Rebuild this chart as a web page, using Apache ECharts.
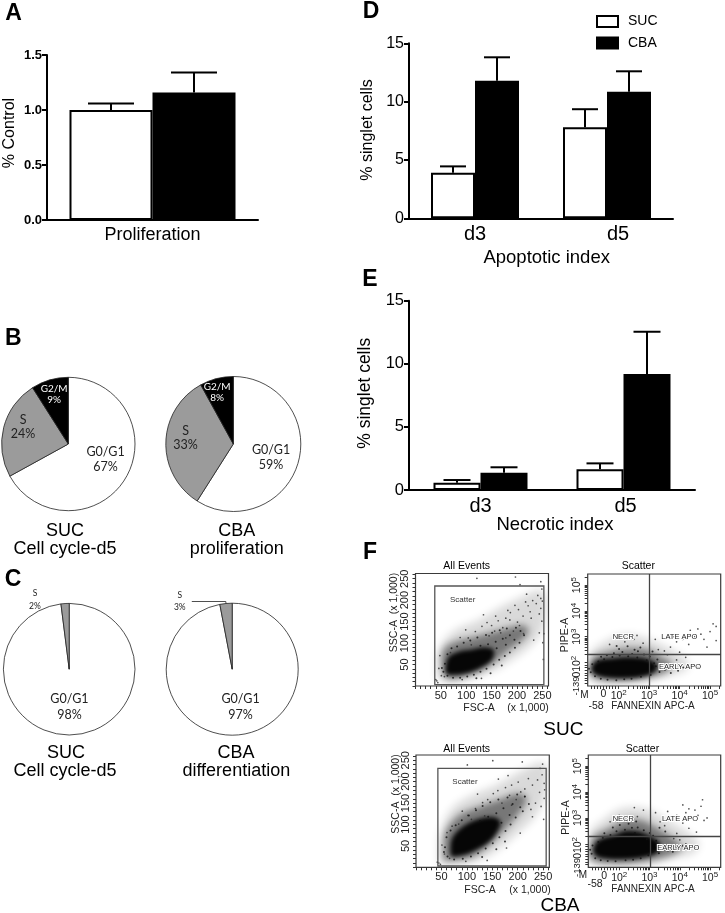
<!DOCTYPE html>
<html><head><meta charset="utf-8">
<script src="https://cdn.jsdelivr.net/npm/echarts@6/dist/echarts.min.js"></script>
<style>html,body{margin:0;padding:0;background:#fff}#c{width:725px;height:913px}</style>
</head><body><div id="c"></div>
<script>
// ================= DATA =================
// Panel A
const profCategories = ['Proliferation'];
const profSUC = [1.00];
const profSUCerr = [0.06];
const profCBA = [1.16];
const profCBAerr = [0.18];
// Panel D (apoptotic)
const dayCategories = ['d3', 'd5'];
const apoSUC = [3.9, 7.8];
const apoSUCerr = [0.55, 1.55];
const apoCBA = [11.8, 10.85];
const apoCBAerr = [2.0, 1.75];
// Panel E (necrotic)
const necSUC = [0.58, 1.64];
const necSUCerr = [0.21, 0.47];
const necCBA = [1.37, 9.19];
const necCBAerr = [0.43, 3.35];
// Panel B / C pies
const phasesB = ['G0/G1', 'S', 'G2/M'];
const pieB_SUC = [67, 24, 9];
const pieB_CBA = [59, 33, 8];
const phasesC = ['G0/G1', 'S'];
const pieC_SUC = [98, 2];
const pieC_CBA = [97, 3];
// Panel F tick labels
const fscTickLabels = [50, 100, 150, 200, 250];
const quadXTickPos = [1.5, 2, 3, 4, 5];
const quadXTickText = ['0', '10|2', '10|3', '10|4', '10|5'];
const quadYTickPos = [1.53, 1.95, 3, 4, 5];
const quadYTickText = ['0', '10|2', '10|3', '10|4', '10|5'];
// gates [x0, y0, x1, y1] (FSC/SSC x1000) and quadrant lines [x, y] (display decades)
const gateSUC = [38, 3, 253, 233];
const gateCBA = [43, 3, 256, 231];
const quadSUC = [3.0, 2.32];
const quadCBA = [3.02, 2.30];
// flow clouds: density contours (outer / mid / core) and dots
const sucFscOuter = [[42,37],[49,92],[78,130],[125,154],[170,185],[210,208],[243,224],[256,216],[256,162],[243,115],[217,84],[190,61],[157,37],[111,18],[72,10],[46,14]];
const sucFscMid = [[52,45],[55,84],[78,103],[118,115],[157,127],[190,138],[210,142],[223,130],[210,107],[184,84],[157,57],[125,33],[92,20],[62,18]];
const sucFscCore = [[59,37],[65,67],[85,80],[111,85],[138,90],[154,84],[151,62],[131,44],[105,31],[78,26],[62,28]];
const sucFscDots = [[58,52],[63,74],[71,88],[82,92],[95,101],[108,106],[122,113],[139,119],[151,124],[166,130],[180,134],[198,136],[207,128],[214,118],[205,101],[196,89],[186,78],[176,70],[165,61],[154,50],[140,40],[128,33],[115,26],[102,22],[88,19],[74,19],[63,24],[55,33],[52,42],[186,118],[172,110],[158,103],[143,97],[128,94],[195,108],[160,88],[178,96],[120,18],[148,30],[170,48]];
const sucFscSparse = [[150,141],[163,152],[178,158],[187,171],[203,178],[212,163],[226,173],[238,192],[247,204],[231,199],[217,196],[196,188],[182,176],[158,163],[141,148],[131,139],[118,127],[104,112],[244,168],[249,151],[253,122],[247,181],[241,211],[219,214],[201,149],[186,154],[134,166],[99,131],[88,113],[51,24],[46,41],[48,71],[42,12],[44,8],[40,15],[206,236],[247,243],[197,254],[121,251],[249,226],[251,101],[252,62],[250,198],[228,158],[172,136],[193,128],[156,128],[110,96],[69,78],[57,22],[233,107],[244,124],[213,122],[168,124],[145,117],[222,187],[205,141],[178,112],[92,15],[130,18]];
const sucQuadOuter = [[0.99,1.71],[1.06,2.36],[1.55,2.81],[2.10,3.07],[2.75,3.00],[3.19,2.81],[3.74,2.49],[4.18,2.16],[4.29,1.84],[3.96,1.58],[3.08,1.32],[2.00,1.19],[1.11,1.26]];
const sucQuadMid = [[1.00,1.78],[1.16,2.20],[1.66,2.42],[2.31,2.55],[2.97,2.49],[3.41,2.20],[3.74,1.97],[3.63,1.71],[3.30,1.52],[2.53,1.32],[1.66,1.30],[1.09,1.48]];
const sucQuadCore = [[1.11,1.78],[1.28,2.07],[1.77,2.16],[2.43,2.20],[2.97,2.12],[3.25,1.90],[3.19,1.65],[2.86,1.48],[2.21,1.39],[1.55,1.43],[1.20,1.56]];
const sucQuadDots = [[1.08,1.62],[1.13,1.93],[1.22,1.47],[1.33,2.04],[1.41,1.37],[1.52,2.13],[1.63,1.33],[1.79,2.21],[1.92,1.31],[2.03,2.27],[2.18,1.35],[2.31,2.24],[2.42,1.37],[2.61,2.19],[2.73,1.45],[2.92,2.09],[3.05,1.52],[3.22,1.86],[3.34,1.63],[3.43,1.94],[3.52,1.72],[3.63,1.83],[3.81,1.77],[1.84,2.36],[2.12,2.41],[2.44,2.33],[2.63,2.44],[2.83,2.31],[3.02,2.23],[1.61,2.28],[2.01,2.52],[2.29,2.63],[2.52,2.49],[1.93,2.64],[2.71,2.58],[3.11,2.43],[1.42,2.22],[3.16,1.97],[3.27,2.12],[1.02,1.76],[3.95,1.68],[4.12,1.81],[3.71,1.59]];
const sucQuadSparse = [[2.2,2.8],[2.5,2.9],[2.0,2.95],[1.7,2.7],[2.8,2.75],[3.3,2.5],[3.5,2.45],[3.7,2.6],[3.9,2.8],[4.1,2.9],[4.3,2.7],[4.5,3.0],[4.7,3.1],[4.8,2.9],[5.0,3.2],[5.1,3.5],[5.2,3.4],[4.6,3.3],[4.0,2.4],[4.2,2.2],[4.4,1.9],[4.6,1.8],[3.9,2.1],[3.6,2.3],[4.9,2.6],[5.2,2.85],[3.2,2.9],[2.6,3.05],[4.35,3.25],[3.8,3.0]];
const cbaFscOuter = [[45,20],[48,82],[71,137],[110,168],[156,191],[202,222],[248,246],[258,230],[254,168],[235,121],[202,82],[163,43],[123,16],[71,5],[45,6]];
const cbaFscMid = [[54,36],[58,82],[84,121],[123,141],[169,160],[202,172],[218,160],[202,125],[176,90],[143,51],[110,24],[71,16],[54,20]];
const cbaFscCore = [[68,36],[71,67],[91,94],[123,113],[153,117],[166,106],[159,82],[143,59],[117,40],[91,28],[71,26]];
const cbaFscDots = [[57,47],[60,70],[68,86],[78,98],[90,110],[104,121],[118,133],[131,143],[146,152],[162,158],[180,163],[199,170],[214,165],[222,148],[210,131],[196,116],[186,100],[176,85],[164,70],[151,56],[137,44],[122,33],[108,25],[92,20],[75,18],[62,25],[55,36],[190,148],[172,138],[158,126],[142,118],[126,108],[205,140],[168,104],[184,122],[130,24],[158,42],[175,60]];
const cbaFscSparse = [[141,158],[152,172],[161,179],[176,186],[188,192],[201,199],[214,183],[229,192],[239,204],[248,216],[252,196],[221,207],[184,168],[131,151],[117,137],[102,121],[91,131],[121,171],[206,176],[244,231],[249,241],[181,214],[162,206],[71,96],[61,81],[56,31],[51,52],[45,10],[48,7],[42,12],[252,161],[251,112],[253,181],[209,246],[151,249],[101,239],[235,150],[226,135],[243,175],[197,158],[169,150],[135,120],[109,112],[84,101],[229,118],[246,142],[214,165],[188,145],[66,21],[98,14],[140,16],[178,45],[205,80]];
const cbaQuadOuter = [[0.99,1.68],[1.04,2.47],[1.53,2.97],[2.08,3.36],[2.85,3.36],[3.51,2.97],[4.17,2.52],[4.61,2.07],[4.50,1.68],[3.73,1.42],[2.85,1.19],[1.53,1.14],[0.99,1.30]];
const cbaQuadMid = [[1.00,1.75],[1.15,2.26],[1.64,2.58],[2.19,2.91],[2.74,2.91],[3.29,2.58],[3.79,2.20],[4.06,1.87],[3.84,1.62],[3.07,1.36],[1.97,1.23],[1.09,1.36]];
const cbaQuadCore = [[1.15,1.81],[1.31,2.13],[1.86,2.34],[2.19,2.49],[2.63,2.47],[3.07,2.26],[3.35,2.00],[3.29,1.68],[2.85,1.49],[2.08,1.40],[1.42,1.45],[1.20,1.58]];
const cbaQuadDots = [[1.09,1.61],[1.12,1.93],[1.21,1.44],[1.31,2.07],[1.39,1.36],[1.46,2.23],[1.62,1.33],[1.71,2.34],[1.88,1.32],[1.91,2.48],[2.21,1.36],[2.19,2.54],[2.46,1.38],[2.52,2.42],[2.71,1.44],[2.69,2.33],[2.96,1.56],[2.91,2.17],[3.12,1.71],[3.21,1.92],[3.31,1.63],[3.46,1.82],[3.61,1.74],[3.77,1.69],[2.02,2.72],[2.31,2.77],[2.42,2.62],[1.79,2.63],[2.61,2.63],[2.81,2.52],[3.01,2.42],[3.12,2.31],[1.51,2.41],[2.16,2.93],[1.94,2.87],[2.56,2.86],[3.22,2.12],[1.04,1.77],[3.33,2.62],[3.52,2.47],[3.92,1.78],[4.08,1.92]];
const cbaQuadSparse = [[2.3,3.0],[2.0,3.1],[2.6,3.05],[1.7,2.85],[3.35,2.85],[3.5,2.7],[3.7,2.9],[3.9,3.1],[4.1,2.8],[4.2,3.2],[4.3,3.35],[4.4,3.0],[4.5,3.3],[4.6,3.1],[4.7,3.45],[4.8,2.9],[4.75,3.7],[4.3,2.6],[3.9,2.4],[4.0,2.15],[4.2,2.0],[4.5,1.85],[3.8,2.2],[3.2,3.2],[2.8,3.3],[4.55,2.45],[4.9,3.0],[3.6,3.25],[4.1,3.5],[2.5,3.4]];

// ================= RENDER =================
const FONT = '"Liberation Sans", Arial, sans-serif';
const PFONT = 'Lato, "Liberation Sans", sans-serif';
const chart = echarts.init(document.getElementById('c'), null, {renderer: 'canvas', width: 725, height: 913});

const grids = [
  {left: 47, top: 55, width: 211, height: 165},          // A
  {left: 409, top: 43.3, width: 264, height: 175},       // D
  {left: 409, top: 300.7, width: 286, height: 189.3},    // E
  {left: 415.5, top: 573.5, width: 133, height: 112.5},  // F SUC all
  {left: 587.7, top: 574, width: 133, height: 112},      // F SUC quad
  {left: 416, top: 755, width: 133.3, height: 112.3},    // F CBA all
  {left: 588.3, top: 755, width: 132.4, height: 112.3}   // F CBA quad
].map((g, i) => Object.assign({outerBoundsMode: 'none', containLabel: false}, g,
  i >= 3 ? {show: true, borderColor: '#3a3a3a', borderWidth: 1.2, backgroundColor: 'transparent', z: 10} : {}));

const blackLine = {lineStyle: {color: '#000', width: 2}};

function catX(gi, cats, fs, shiftLast) {
  const lab = {color: '#000', fontSize: fs, fontFamily: FONT, margin: 6};
  if (shiftLast) {
    lab.formatter = (v, i) => i === cats.length - 1 ? '{a|' + v + '}' : v;
    lab.rich = {a: {fontSize: fs, fontFamily: FONT, color: '#000', padding: [0, 0, 0, shiftLast]}};
  }
  return {type: 'category', gridIndex: gi, data: cats, axisLine: Object.assign({show: true}, blackLine),
    axisTick: {show: false}, axisLabel: lab, splitLine: {show: false}};
}
function valY(gi, max, interval, labelOpt) {
  return {type: 'value', gridIndex: gi, min: 0, max: max, interval: interval,
    axisLine: Object.assign({show: true}, blackLine),
    axisTick: {show: true, inside: false, length: 5, lineStyle: {color: '#000', width: 2}},
    axisLabel: Object.assign({color: '#000', fontFamily: FONT, margin: 5}, labelOpt),
    splitLine: {show: false}};
}

const fscTickVals = [];
for (let v = 0; v <= 260; v += 10) fscTickVals.push(v);
const quadXTicks = [1.1, 1.2, 1.3, 1.4, 1.5, 1.6, 1.7, 1.8, 1.9];
const quadYTicks = [1.2, 1.3, 1.4, 1.5, 1.6, 1.7, 1.8, 1.9];
[2, 3, 4].forEach(n => { for (let k = 1; k <= 9; k++) { quadXTicks.push(n + Math.log10(k)); quadYTicks.push(n + Math.log10(k)); } });
quadXTicks.push(5, 5 + Math.log10(2)); quadYTicks.push(5, 5 + Math.log10(2));

const supRich = {b: {fontSize: 10.5, fontFamily: FONT, color: '#222', verticalAlign: 'bottom'},
                 s: {fontSize: 8, fontFamily: FONT, color: '#222', verticalAlign: 'bottom', padding: [0, 0, 5, 0]}};
function supFmt(pos, txt) {
  return function (v) {
    const i = pos.findIndex(p => Math.abs(p - v) < 1e-6);
    if (i < 0) return '';
    const t = txt[i].split('|');
    return t.length > 1 ? '{b|' + t[0] + '}{s|' + t[1] + '}' : '{b|' + t[0] + '}';
  };
}
function fscAxis(gi, isY) {
  return {type: 'value', gridIndex: gi, min: 0, max: 262.144,
    axisLine: {show: false},
    axisTick: {show: true, inside: false, length: 3, customValues: fscTickVals, lineStyle: {color: '#333', width: 1}},
    axisLabel: {customValues: fscTickLabels, color: '#222', fontSize: 11, fontFamily: FONT, margin: isY ? 5 : 4,
      rotate: isY ? 90 : 0, hideOverlap: false},
    splitLine: {show: false}};
}
function quadAxis(gi, isY) {
  const pos = isY ? quadYTickPos : quadXTickPos;
  const txt = isY ? quadYTickText : quadXTickText;
  return {type: 'value', gridIndex: gi, min: isY ? 1.09 : 0.98, max: isY ? 5.43 : 5.35,
    axisLine: {show: false},
    axisTick: {show: true, inside: false, length: 3, customValues: isY ? quadYTicks : quadXTicks, lineStyle: {color: '#333', width: 1}},
    axisLabel: {customValues: pos, formatter: supFmt(pos, txt), rich: supRich, margin: isY ? 5 : 3,
      rotate: isY ? 90 : 0, hideOverlap: false, showMinLabel: true, showMaxLabel: true},
    splitLine: {show: false}};
}

const xAxes = [
  catX(0, profCategories, 18),
  catX(1, dayCategories, 20, 22),
  catX(2, dayCategories, 20, 4),
  fscAxis(3, false), quadAxis(4, false), fscAxis(5, false), quadAxis(6, false)
];
const yAxes = [
  valY(0, 1.5, 0.5, {fontSize: 13, fontWeight: 'bold', formatter: v => v.toFixed(1)}),
  valY(1, 15, 5, {fontSize: 16}),
  valY(2, 15, 5, {fontSize: 16.5}),
  fscAxis(3, true), quadAxis(4, true), fscAxis(5, true), quadAxis(6, true)
];

function barPair(ai, suc, cba, bw) {
  return [
    {type: 'bar', name: 'SUC', xAxisIndex: ai, yAxisIndex: ai, data: suc, barWidth: bw, barGap: '0%',
      itemStyle: {color: '#fff', borderColor: '#000', borderWidth: 2}, z: 2},
    {type: 'bar', name: 'CBA', xAxisIndex: ai, yAxisIndex: ai, data: cba, barWidth: bw, barGap: '0%',
      itemStyle: {color: '#000', borderColor: '#000', borderWidth: 2}, z: 2}
  ];
}
function errBars(ai, vals, errs, side, bw, capW) {
  return {type: 'custom', xAxisIndex: ai, yAxisIndex: ai, z: 3, silent: true,
    data: vals.map((v, i) => [i, v, errs[i]]),
    renderItem: function (params, api) {
      const i = api.value(0), v = api.value(1), e = api.value(2);
      const p0 = api.coord([i, v]), p1 = api.coord([i, v + e]);
      const x = p0[0] + side * bw / 2;
      return {type: 'group', children: [
        {type: 'line', shape: {x1: x, y1: p0[1], x2: x, y2: p1[1]}, style: {stroke: '#000', lineWidth: 2}},
        {type: 'line', shape: {x1: x - capW / 2, y1: p1[1], x2: x + capW / 2, y2: p1[1]}, style: {stroke: '#000', lineWidth: 2}}
      ]};
    }};
}
function gateSeries(ai, gate) {
  return {type: 'custom', xAxisIndex: ai, yAxisIndex: ai, z: 6, silent: true, data: [gate],
    renderItem: function (params, api) {
      const a = api.coord([api.value(0), api.value(3)]), b = api.coord([api.value(2), api.value(1)]);
      return {type: 'rect', shape: {x: a[0], y: a[1], width: b[0] - a[0], height: b[1] - a[1]},
        style: {fill: 'none', stroke: '#555', lineWidth: 1.3}};
    }};
}
// density contour drawn as a blurred shadow of an off-screen copy (soft edge)
const OFF = 3000;
function contourSeries(ai, pts, alpha, blur) {
  return {type: 'custom', xAxisIndex: ai, yAxisIndex: ai, z: 1, silent: true, data: pts,
    clip: true,
    renderItem: function (params, api) {
      if (params.dataIndex !== 0) return null;
      const poly = pts.map(p => { const c = api.coord(p); return [c[0] - OFF, c[1]]; });
      return {type: 'polygon', shape: {points: poly, smooth: 0.35},
        style: {fill: '#000', shadowBlur: blur, shadowOffsetX: OFF, shadowOffsetY: 0,
          shadowColor: 'rgba(0,0,0,' + alpha + ')'}};
    }};
}
function cloud(ai, outer, mid, core, dots, sparse, quad) {
  const s = [
    contourSeries(ai, outer, 0.15, 9),
    contourSeries(ai, mid, 0.45, 7),
    contourSeries(ai, core, 0.95, 4),
    {type: 'scatter', xAxisIndex: ai, yAxisIndex: ai, data: sparse, symbolSize: 1.7, silent: true,
      itemStyle: {color: '#333', opacity: 0.85}, z: 3},
    {type: 'scatter', xAxisIndex: ai, yAxisIndex: ai, data: dots, symbolSize: 2, silent: true,
      itemStyle: {color: '#111', opacity: 0.8}, z: 3}
  ];
  if (quad) {
    s[3].markLine = {silent: true, symbol: 'none', animation: false, label: {show: false},
      lineStyle: {color: '#444', width: 1.3, type: 'solid'},
      data: [{xAxis: quad[0]}, {yAxis: quad[1]}]};
  }
  return s;
}

const sliceColor = {'G0/G1': '#ffffff', 'S': '#9b9b9b', 'G2/M': '#000000'};
function pieSeries(center, r, names, vals, labelStyles, shifts) {
  return {type: 'pie', center: center, radius: r, startAngle: 90, clockwise: true,
    avoidLabelOverlap: false, silent: true, animation: false,
    itemStyle: {borderColor: '#222', borderWidth: 0.8},
    emphasis: {disabled: true},
    label: {show: true, position: 'inside', formatter: '{b}\n{c}%', fontFamily: PFONT, color: '#222'},
    labelLine: {show: false},
    data: names.map((n, i) => Object.assign({name: n, value: vals[i], itemStyle: {color: sliceColor[n]}}, labelStyles[i])),
    labelLayout: function (p) { const s = shifts[p.dataIndex] || [0, 0]; return {dx: s[0], dy: s[1]}; }
  };
}
const bLabel = [
  {label: {fontSize: 12.5, lineHeight: 15, color: '#222'}},
  {label: {fontSize: 12.5, lineHeight: 13.5, color: '#222'}},
  {label: {fontSize: 10, lineHeight: 10.5, color: '#fff'}}
];
function cLabel(showLine, len2) {
  return [
    {label: {fontSize: 12.5, lineHeight: 15.5, color: '#222'}},
    {label: {position: 'outside', formatter: '{t|{b}}\n{t|{c}%}', color: '#222',
      rich: {t: {fontSize: 8.5, lineHeight: 12.5, width: 14, align: 'center', fontFamily: PFONT, color: '#222'}}},
     labelLine: {show: showLine, length: 2, length2: len2, smooth: false, lineStyle: {color: '#222', width: 0.8}}}
  ];
}

const series = [].concat(
  barPair(0, profSUC, profCBA, 83),
  [errBars(0, profSUC, profSUCerr, -1, 83, 46), errBars(0, profCBA, profCBAerr, 1, 83, 46)],
  barPair(1, apoSUC, apoCBA, 44),
  [errBars(1, apoSUC, apoSUCerr, -1, 44, 26), errBars(1, apoCBA, apoCBAerr, 1, 44, 26)],
  barPair(2, necSUC, necCBA, 47),
  [errBars(2, necSUC, necSUCerr, -1, 47, 27), errBars(2, necCBA, necCBAerr, 1, 47, 27)],
  cloud(3, sucFscOuter, sucFscMid, sucFscCore, sucFscDots, sucFscSparse, null), [gateSeries(3, gateSUC)],
  cloud(4, sucQuadOuter, sucQuadMid, sucQuadCore, sucQuadDots, sucQuadSparse, quadSUC),
  cloud(5, cbaFscOuter, cbaFscMid, cbaFscCore, cbaFscDots, cbaFscSparse, null), [gateSeries(5, gateCBA)],
  cloud(6, cbaQuadOuter, cbaQuadMid, cbaQuadCore, cbaQuadDots, cbaQuadSparse, quadCBA),
  [
    pieSeries([68.3, 444], 66.7, phasesB, pieB_SUC, bLabel, [[6, -3], [-10, -8], [-4, -15]]),
    pieSeries([233.3, 444], 67.5, phasesB, pieB_CBA, bLabel, [[2.5, 3], [-11, -5], [-7, -16]]),
    pieSeries([69.2, 669.2], 65.8, phasesC, pieC_SUC, cLabel(false, 18), [[-2, 2], [0, -2]]),
    pieSeries([232.2, 669.2], 66, phasesC, pieC_CBA, cLabel(true, 34), [[5, 2], [0, 0]])
  ]
);

function T(x, y, text, size, o) {
  o = o || {};
  return {type: 'text', x: x, y: y, rotation: o.rot ? Math.PI / 2 : 0, silent: true, z: 50,
    style: {text: text, fontSize: size, fontFamily: o.font || FONT, fontWeight: o.bold ? 'bold' : 'normal',
      fill: o.color || '#000', align: 'center', verticalAlign: 'middle', textAlign: 'center', textVerticalAlign: 'middle',
      stroke: o.halo ? '#fff' : null, lineWidth: o.halo ? 2 : 0}};
}
const graphics = [
  T(13.5, 13.5, 'A', 23, {bold: true}), T(371, 11.7, 'D', 23, {bold: true}),
  T(13.3, 339, 'B', 23, {bold: true}), T(13, 580, 'C', 23, {bold: true}),
  T(370, 279.5, 'E', 23, {bold: true}), T(370, 553, 'F', 23, {bold: true}),
  T(9.2, 133, '% Control', 16, {rot: true}),
  T(368, 130, '% singlet cells', 16, {rot: true}), T(546.7, 258, 'Apoptotic index', 18.5),
  T(365, 393.3, '% singlet cells', 17.5, {rot: true}), T(555, 525, 'Necrotic index', 18.5),
  T(65, 530.8, 'SUC', 18), T(65, 549, 'Cell cycle-d5', 18),
  T(236.7, 530.8, 'CBA', 18), T(236.7, 549, 'proliferation', 18),
  T(66, 753, 'SUC', 18), T(65, 771, 'Cell cycle-d5', 18),
  T(236, 753, 'CBA', 18), T(236.3, 771, 'differentiation', 18),
  // F top row
  T(466.7, 565.7, 'All Events', 10.5), T(638.3, 565.7, 'Scatter', 10.5),
  T(479, 708.3, 'FSC-A', 10.5, {color: '#222'}), T(528, 708.3, '(x 1,000)', 10.5, {color: '#222'}),
  T(394, 612.5, 'SSC-A  (x 1,000)', 10.5, {rot: true, color: '#222'}), T(565, 635, 'PIPE-A', 10.5, {rot: true, color: '#222'}),
  T(653, 706.7, 'FANNEXIN APC-A', 10, {color: '#222'}), T(596, 706, '-58', 10.5, {color: '#222'}), T(584.5, 695, 'M', 10, {color: '#222'}),
  T(576.5, 686, '-139', 9.5, {rot: true, color: '#222'}),
  T(462.7, 599.3, 'Scatter', 8, {color: '#333', halo: true}),
  T(623.3, 637.3, 'NECR', 7.5, {color: '#222', halo: true}), T(679.3, 637.3, 'LATE APO', 7.5, {color: '#222', halo: true}),
  T(680, 667.3, 'EARLY APO', 7.5, {color: '#222', halo: true}),
  T(563.3, 730, 'SUC', 19),
  // F bottom row
  T(466.7, 749, 'All Events', 10.5), T(642.5, 749, 'Scatter', 10.5),
  T(480, 890, 'FSC-A', 10.5, {color: '#222'}), T(530, 890, '(x 1,000)', 10.5, {color: '#222'}),
  T(396, 794, 'SSC-A  (x 1,000)', 10.5, {rot: true, color: '#222'}), T(566, 817.5, 'PIPE-A', 10.5, {rot: true, color: '#222'}),
  T(653, 889, 'FANNEXIN APC-A', 10, {color: '#222'}), T(595, 884, '-58', 10.5, {color: '#222'}), T(583, 875, 'M', 10, {color: '#222'}),
  T(577, 867.5, '-139', 9.5, {rot: true, color: '#222'}),
  T(465, 781.7, 'Scatter', 8, {color: '#333', halo: true}),
  T(623.3, 819, 'NECR', 7.5, {color: '#222', halo: true}), T(680, 819, 'LATE APO', 7.5, {color: '#222', halo: true}),
  T(678.3, 848.3, 'EARLY APO', 7.5, {color: '#222', halo: true}),
  T(560, 906, 'CBA', 19)
];

chart.setOption({
  animation: false,
  backgroundColor: '#fff',
  textStyle: {fontFamily: FONT},
  grid: grids,
  xAxis: xAxes,
  yAxis: yAxes,
  legend: {data: ['SUC', 'CBA'], orient: 'vertical', left: 591, top: 8.5, itemWidth: 21, itemHeight: 11, itemGap: 5.6,
    icon: 'rect', selectedMode: false,
    textStyle: {fontSize: 14, fontFamily: FONT, color: '#000', lineHeight: 16, padding: [0, 0, 0, 5]}},
  series: series,
  graphic: graphics
});
</script>
</body></html>
